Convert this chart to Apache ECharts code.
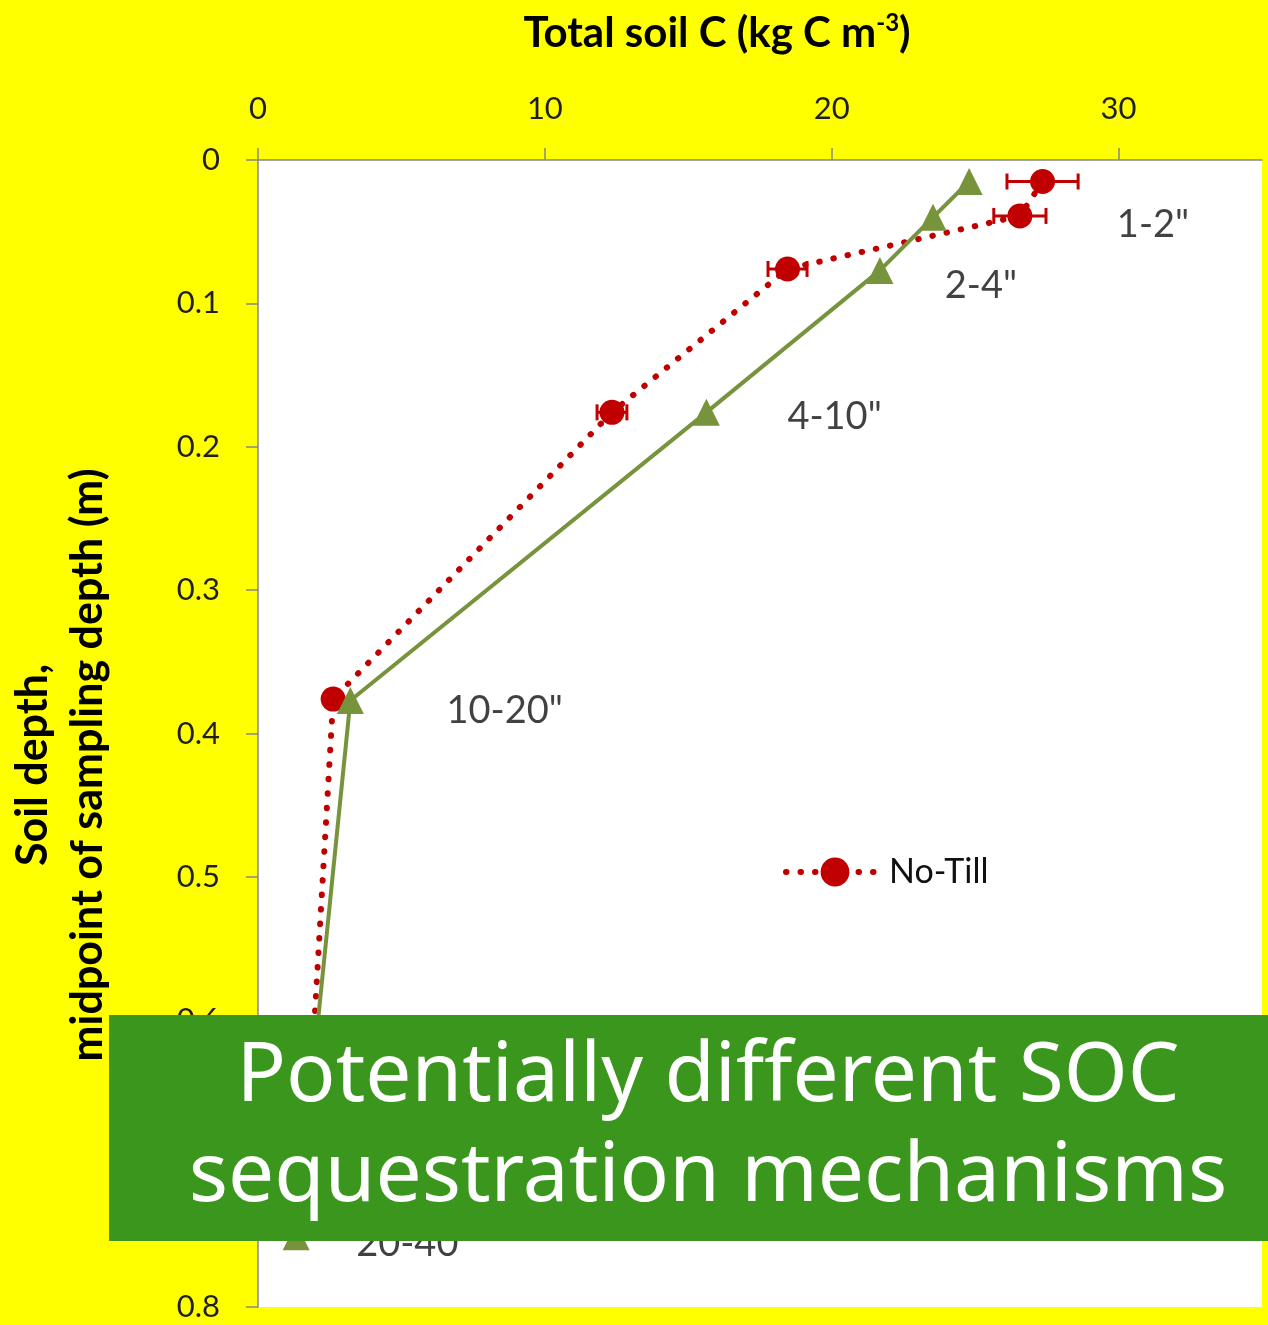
<!DOCTYPE html>
<html>
<head>
<meta charset="utf-8">
<script src="https://cdn.jsdelivr.net/npm/echarts@6/dist/echarts.min.js"></script>
<style>
  html, body { margin: 0; padding: 0; background: #ffff00; }
  #chart { width: 1268px; height: 1325px; }
</style>
</head>
<body>
<div id="chart"></div>
<script>
// No-Till profile: total soil C (kg C m-3) at the midpoint of each sampling depth (m)
const depthNoTill  = [0.015, 0.039, 0.076, 0.176, 0.376, 0.745];
const carbonNoTill = [27.35, 26.56, 18.46, 12.34, 2.62, 1.55];
const errNoTill    = [1.24, 0.91, 0.68, 0.52, 0, 0];

// Conventional tillage profile
const depthConv  = [0.015, 0.040, 0.077, 0.176, 0.377, 0.751];
const carbonConv = [24.79, 23.53, 21.68, 15.63, 3.22, 1.33];

// Sampling layer annotations (inches), placed in data units
const layerLabels = ['1-2"', '2-4"', '4-10"', '10-20"', '20-40"'];
const layerLabelC = [31.2, 25.2, 20.1, 8.6, 5.45];
const layerLabelDepth = [0.045, 0.088, 0.179, 0.384, 0.756];

const xMin = 0, xMax = 35, xStep = 10;
const yMin = 0, yMax = 0.8, yStep = 0.1;

const RED = '#c00000';
const GREEN = '#77933c';
const AXIS = '#868686';
const LABEL_FONT = 'Lato, "Open Sans", sans-serif';
const BANNER_FONT = '"Comic Sans MS", "Noto Sans", "Open Sans", sans-serif';
const RED_DOTS = { color: RED, width: 6, type: [0.5, 14], cap: 'round' };

const chart = echarts.init(document.getElementById('chart'), null, { renderer: 'canvas' });

const noTillData = carbonNoTill.map((c, i) => [c, depthNoTill[i]]);
const convData = carbonConv.map((c, i) => [c, depthConv[i]]);
const errData = carbonNoTill.map((c, i) => [c, depthNoTill[i], errNoTill[i]]).filter(d => d[2] > 0);
const labelData = layerLabels.map((t, i) => ({ value: [layerLabelC[i], layerLabelDepth[i]], name: t }));

const option = {
  backgroundColor: '#ffff00',
  animation: false,
  grid: {
    left: 258, top: 160, right: 6, bottom: 18,
    show: true, backgroundColor: '#ffffff', borderWidth: 0
  },
  xAxis: {
    type: 'value', position: 'top',
    min: xMin, max: xMax, interval: xStep,
    axisLine: { show: true, lineStyle: { color: AXIS, width: 1.5 } },
    axisTick: { show: true, length: 12, lineStyle: { color: AXIS, width: 1.5 } },
    axisLabel: {
      margin: 36, fontSize: 31, color: '#1f1f1f', fontFamily: LABEL_FONT,
      showMaxLabel: false
    },
    splitLine: { show: false }
  },
  yAxis: {
    type: 'value', inverse: true,
    min: yMin, max: yMax, interval: yStep,
    axisLine: { show: true, lineStyle: { color: AXIS, width: 1.5 } },
    axisTick: { show: true, length: 12, lineStyle: { color: AXIS, width: 1.5 } },
    axisLabel: {
      margin: 38, fontSize: 31, color: '#1f1f1f', fontFamily: LABEL_FONT,
      formatter: v => (Math.abs(v) < 1e-9 ? '0' : v.toFixed(1))
    },
    splitLine: { show: false }
  },
  legend: {
    data: ['No-Till'],
    left: 778, top: 850,
    itemWidth: 98, itemHeight: 36, itemGap: 10,
    lineStyle: RED_DOTS,
    textStyle: { fontSize: 34, color: '#111', fontFamily: LABEL_FONT }
  },
  series: [
    {
      name: 'No-Till',
      type: 'line',
      data: noTillData,
      symbol: 'circle', symbolSize: 25,
      itemStyle: { color: RED },
      lineStyle: RED_DOTS,
      z: 2
    },
    {
      name: 'No-Till error',
      type: 'custom',
      data: errData,
      encode: { x: 0, y: 1 },
      z: 3,
      renderItem: (params, api) => {
        const c = api.value(0), d = api.value(1), e = api.value(2);
        const p0 = api.coord([c - e, d]);
        const p1 = api.coord([c + e, d]);
        const h = 8;
        const style = { stroke: RED, lineWidth: 3 };
        return {
          type: 'group',
          children: [
            { type: 'line', shape: { x1: p0[0], y1: p0[1], x2: p1[0], y2: p1[1] }, style },
            { type: 'line', shape: { x1: p0[0], y1: p0[1] - h, x2: p0[0], y2: p0[1] + h }, style },
            { type: 'line', shape: { x1: p1[0], y1: p1[1] - h, x2: p1[0], y2: p1[1] + h }, style }
          ]
        };
      }
    },
    {
      name: 'Conventional Till',
      type: 'line',
      data: convData,
      symbol: 'triangle', symbolSize: 27,
      itemStyle: { color: GREEN },
      lineStyle: { color: GREEN, width: 4 },
      z: 4
    },
    {
      name: 'Layers',
      type: 'scatter',
      data: labelData,
      symbolSize: 0,
      silent: true,
      z: 5,
      label: {
        show: true, position: 'inside',
        formatter: p => p.name,
        fontSize: 38, color: '#111', fontFamily: LABEL_FONT
      }
    }
  ],
  graphic: [
    {
      type: 'text', z: 10,
      x: 717, y: 33,
      style: {
        text: '{t|Total soil C (kg C m}{s|-3}{t|)}',
        align: 'center', verticalAlign: 'middle',
        rich: {
          t: { fontSize: 42, fontWeight: 'bold', fill: '#000', fontFamily: LABEL_FONT },
          s: { fontSize: 24, fontWeight: 'bold', fill: '#000', fontFamily: LABEL_FONT, verticalAlign: 'top', padding: [0, 0, 20, 0] }
        }
      }
    },
    {
      type: 'text', z: 10,
      x: 61, y: 765, rotation: Math.PI / 2,
      style: {
        text: 'Soil depth,\nmidpoint of sampling depth (m)',
        fontSize: 43, fontWeight: 'bold', fill: '#000', fontFamily: LABEL_FONT,
        align: 'center', verticalAlign: 'middle', lineHeight: 55
      }
    },
    {
      type: 'rect', z: 20,
      shape: { x: 109, y: 1015, width: 1159, height: 226 },
      style: { fill: '#3b961e' }
    },
    {
      type: 'text', z: 21,
      x: 708, y: 1128,
      style: {
        text: 'Potentially different SOC\nsequestration mechanisms',
        fontSize: 82, fill: '#ffffff', fontFamily: BANNER_FONT,
        align: 'center', verticalAlign: 'middle', lineHeight: 100
      }
    }
  ]
};

chart.setOption(option);
</script>
</body>
</html>
